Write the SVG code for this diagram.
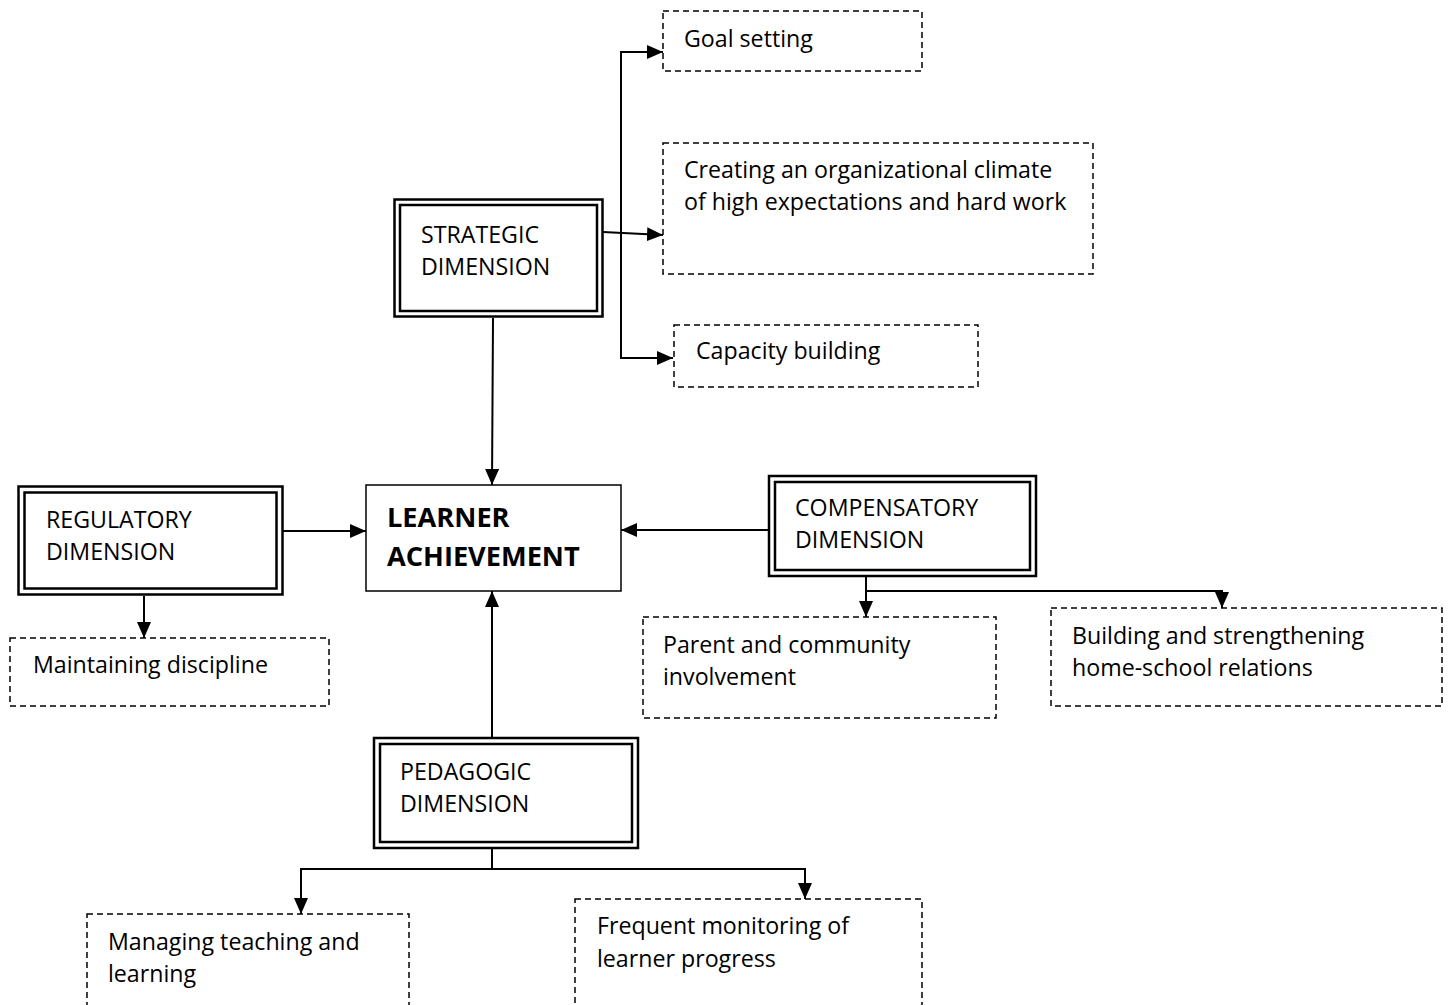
<svg xmlns="http://www.w3.org/2000/svg" width="1452" height="1005" viewBox="0 0 1452 1005">
  <style>
    text { font-family: "Open Sans", "Noto Sans", "Liberation Sans", sans-serif; font-size: 23.2px; fill: #000; }
    .bold { font-weight: bold; font-size: 27.2px; }
    .outer, .inner { fill: none; stroke: #000; stroke-width: 2.5; }
    .plain { fill: #fff; stroke: #000; stroke-width: 1.5; }
    .dash { fill: #fff; stroke: #000; stroke-width: 1.5; stroke-dasharray: 6 4; }
    .conn { fill: none; stroke: #000; stroke-width: 2; }
  </style>
  <defs>
    <marker id="arrow" viewBox="0 0 16 14" refX="16" refY="7" markerWidth="16" markerHeight="14" markerUnits="userSpaceOnUse" orient="auto">
      <path d="M0,0 L16,7 L0,14 Z" fill="#000"/>
    </marker>
  </defs>

  <rect width="1452" height="1005" fill="#fff"/>

  <!-- connectors -->
  <g id="connectors">
    <line class="conn" x1="493" y1="318" x2="492" y2="485" marker-end="url(#arrow)"/>
    <line class="conn" x1="603" y1="232" x2="663" y2="235" marker-end="url(#arrow)"/>
    <path class="conn" d="M621,233 V52 H663" marker-end="url(#arrow)"/>
    <path class="conn" d="M621,233 V358 H673" marker-end="url(#arrow)"/>
    <line class="conn" x1="283" y1="531" x2="366" y2="531" marker-end="url(#arrow)"/>
    <line class="conn" x1="144" y1="596" x2="144" y2="638" marker-end="url(#arrow)"/>
    <line class="conn" x1="768" y1="530" x2="621" y2="530" marker-end="url(#arrow)"/>
    <line class="conn" x1="866" y1="577" x2="866" y2="617" marker-end="url(#arrow)"/>
    <path class="conn" d="M866,591 H1222 V608" marker-end="url(#arrow)"/>
    <line class="conn" x1="492" y1="737" x2="492" y2="591" marker-end="url(#arrow)"/>
    <path class="conn" d="M492,849 V869 H301 V914" marker-end="url(#arrow)"/>
    <path class="conn" d="M492,869 H805 V899" marker-end="url(#arrow)"/>
  </g>

  <!-- central node -->
  <g id="learner">
    <rect class="plain" x="366" y="485" width="255" height="106"/>
    <text class="bold" x="387" y="527">LEARNER</text>
    <text class="bold" x="387" y="566">ACHIEVEMENT</text>
  </g>

  <!-- dimension nodes (double border) -->
  <g id="strategic">
    <rect class="outer" x="394.5" y="199.5" width="208" height="117"/>
    <rect class="inner" x="400" y="205" width="197" height="106"/>
    <text x="421" y="243">STRATEGIC</text>
    <text x="421" y="275">DIMENSION</text>
  </g>
  <g id="regulatory">
    <rect class="outer" x="18.5" y="486.5" width="264" height="108"/>
    <rect class="inner" x="24.5" y="492.5" width="252" height="96"/>
    <text x="46" y="528">REGULATORY</text>
    <text x="46" y="560">DIMENSION</text>
  </g>
  <g id="compensatory">
    <rect class="outer" x="769" y="476" width="267" height="100"/>
    <rect class="inner" x="775" y="482" width="255" height="88"/>
    <text x="795" y="516">COMPENSATORY</text>
    <text x="795" y="548">DIMENSION</text>
  </g>
  <g id="pedagogic">
    <rect class="outer" x="374" y="738" width="264" height="110"/>
    <rect class="inner" x="380" y="744" width="252" height="98"/>
    <text x="400" y="780">PEDAGOGIC</text>
    <text x="400" y="812">DIMENSION</text>
  </g>

  <!-- practice nodes (dashed) -->
  <g id="goal-setting">
    <rect class="dash" x="663" y="11" width="259" height="60"/>
    <text x="684" y="47">Goal setting</text>
  </g>
  <g id="climate">
    <rect class="dash" x="663" y="143" width="430" height="131"/>
    <text x="684" y="178">Creating an organizational climate</text>
    <text x="684" y="210">of high expectations and hard work</text>
  </g>
  <g id="capacity">
    <rect class="dash" x="674" y="325" width="304" height="62"/>
    <text x="696" y="359">Capacity building</text>
  </g>
  <g id="discipline">
    <rect class="dash" x="10" y="638" width="319" height="68"/>
    <text x="33" y="673">Maintaining discipline</text>
  </g>
  <g id="parent">
    <rect class="dash" x="643" y="617" width="353" height="101"/>
    <text x="663" y="653">Parent and community</text>
    <text x="663" y="685">involvement</text>
  </g>
  <g id="home-school">
    <rect class="dash" x="1051" y="608" width="391" height="98"/>
    <text x="1072" y="644">Building and strengthening</text>
    <text x="1072" y="676">home-school relations</text>
  </g>
  <g id="teaching">
    <rect class="dash" x="87" y="914" width="322" height="100"/>
    <text x="108" y="950">Managing teaching and</text>
    <text x="108" y="982">learning</text>
  </g>
  <g id="monitoring">
    <rect class="dash" x="575" y="899" width="347" height="115"/>
    <text x="597" y="934">Frequent monitoring of</text>
    <text x="597" y="967">learner progress</text>
  </g>
</svg>
